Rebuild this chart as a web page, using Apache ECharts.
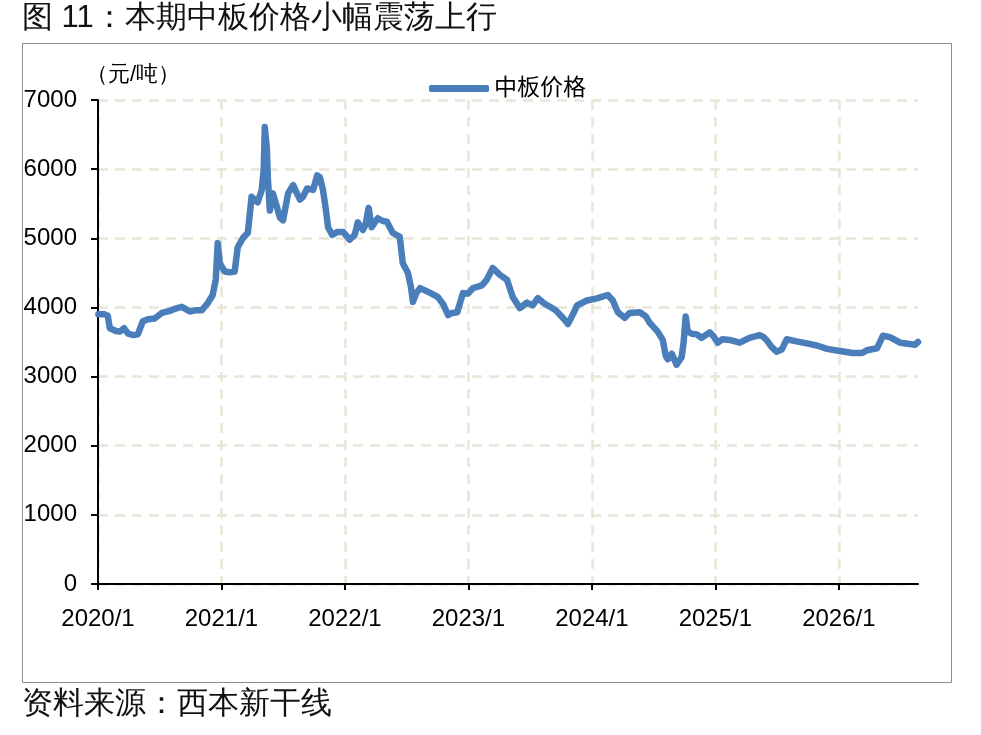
<!DOCTYPE html>
<html>
<head>
<meta charset="utf-8">
<script src="https://cdn.jsdelivr.net/npm/echarts@6/dist/echarts.min.js"></script>
<style>
  html, body { margin: 0; padding: 0; background: #fff; }
  #chart { width: 981px; height: 735px; }
</style>
</head>
<body>
<div id="chart"></div>
<script>
// 中板价格（元/吨），读自原图
const dates = [
  '2020-01-02', '2020-01-21', '2020-01-30', '2020-02-05', '2020-02-23', '2020-03-06', '2020-03-18', '2020-03-30',
  '2020-04-16', '2020-04-28', '2020-05-13', '2020-05-28', '2020-06-17', '2020-07-08', '2020-08-01', '2020-08-16',
  '2020-09-05', '2020-09-29', '2020-10-17', '2020-11-04', '2020-11-21', '2020-12-06', '2020-12-15', '2020-12-21',
  '2020-12-27', '2021-01-10', '2021-01-25', '2021-02-09', '2021-02-18', '2021-03-05', '2021-03-20', '2021-03-31',
  '2021-04-18', '2021-04-30', '2021-05-06', '2021-05-09', '2021-05-15', '2021-05-18', '2021-05-24', '2021-06-02',
  '2021-06-14', '2021-06-23', '2021-07-02', '2021-07-17', '2021-08-01', '2021-08-12', '2021-08-21', '2021-08-30',
  '2021-09-11', '2021-09-29', '2021-10-11', '2021-10-19', '2021-10-28', '2021-11-06', '2021-11-12', '2021-11-24',
  '2021-12-09', '2021-12-27', '2022-01-15', '2022-01-30', '2022-02-08', '2022-02-23', '2022-03-03', '2022-03-12',
  '2022-03-21', '2022-04-08', '2022-04-23', '2022-05-05', '2022-05-22', '2022-06-12', '2022-06-21', '2022-07-06',
  '2022-07-15', '2022-07-21', '2022-07-30', '2022-08-11', '2022-09-10', '2022-10-03', '2022-10-18', '2022-11-02',
  '2022-11-14', '2022-11-29', '2022-12-16', '2022-12-31', '2023-01-14', '2023-01-29', '2023-02-10', '2023-02-24',
  '2023-03-14', '2023-04-04', '2023-04-25', '2023-05-12', '2023-06-02', '2023-06-23', '2023-07-10', '2023-07-25',
  '2023-08-12', '2023-08-30', '2023-09-16', '2023-10-07', '2023-10-22', '2023-11-06', '2023-11-18', '2023-12-17',
  '2024-01-16', '2024-02-17', '2024-03-03', '2024-03-18', '2024-04-07', '2024-04-22', '2024-05-22', '2024-06-09',
  '2024-06-20', '2024-07-14', '2024-07-29', '2024-08-07', '2024-08-13', '2024-08-25', '2024-09-08', '2024-09-23',
  '2024-09-29', '2024-10-05', '2024-10-11', '2024-10-23', '2024-11-07', '2024-11-21', '2024-12-03', '2024-12-15',
  '2024-12-27', '2025-01-08', '2025-01-22', '2025-02-12', '2025-03-14', '2025-04-12', '2025-05-12', '2025-05-24',
  '2025-06-01', '2025-06-16', '2025-07-01', '2025-07-16', '2025-07-31', '2025-08-29', '2025-09-28', '2025-10-28',
  '2025-11-27', '2026-01-04', '2026-02-11', '2026-03-10', '2026-03-25', '2026-04-24', '2026-05-11', '2026-06-01',
  '2026-07-01', '2026-07-30', '2026-08-14', '2026-08-23'
];
const prices = [
  3900, 3900, 3880, 3700, 3660, 3650, 3700, 3620,
  3600, 3610, 3800, 3830, 3840, 3920, 3950, 3980,
  4010, 3940, 3960, 3960, 4060, 4180, 4400, 4930,
  4640, 4520, 4510, 4520, 4870, 5000, 5080, 5600,
  5520, 5700, 6000, 6610, 6300, 5880, 5400, 5650,
  5450, 5300, 5260, 5650, 5770, 5650, 5560, 5600,
  5720, 5700, 5910, 5880, 5700, 5400, 5160, 5050,
  5090, 5090, 4980, 5050, 5230, 5120, 5200, 5440,
  5160, 5290, 5250, 5240, 5080, 5020, 4640, 4500,
  4300, 4080, 4200, 4280, 4210, 4150, 4050, 3890,
  3920, 3930, 4210, 4200, 4280, 4300, 4320, 4400,
  4570, 4470, 4400, 4150, 3990, 4070, 4030, 4135,
  4060, 4010, 3960, 3850, 3760, 3900, 4030, 4100,
  4130, 4180, 4100, 3930, 3850, 3920, 3930, 3870,
  3780, 3650, 3530, 3300, 3250, 3330, 3170, 3280,
  3500, 3870, 3650, 3620, 3610, 3560, 3600, 3640,
  3580, 3490, 3540, 3530, 3490, 3560, 3600, 3570,
  3530, 3430, 3360, 3390, 3540, 3510, 3480, 3450,
  3400, 3370, 3340, 3340, 3380, 3410, 3590, 3570,
  3490, 3470, 3460, 3500
];
const yearTicks = [2020, 2021, 2022, 2023, 2024, 2025, 2026];
const seriesName = '中板价格';

// 日期 -> 小数年份，方便按年份刻度对齐
function toYear(s) {
    const [y, m, d] = s.split('-').map(Number);
    const t0 = Date.UTC(y, 0, 1), t1 = Date.UTC(y + 1, 0, 1);
    return y + (Date.UTC(y, m - 1, d) - t0) / (t1 - t0);
}

const numFont = '"Liberation Sans Narrow", "Arial Narrow", "Liberation Sans", Arial, sans-serif';
const cjkFont = '"Liberation Sans", "Noto Sans CJK SC", sans-serif';
const gridColor = '#e9e5d8';

const chart = echarts.init(document.getElementById('chart'), null, { renderer: 'canvas' });

const option = {
    animation: false,
    backgroundColor: '#fff',
    grid: { left: 98, right: 63, top: 100, bottom: 151, containLabel: false },
    legend: {
        data: [seriesName],
        left: 424,
        top: 72,
        icon: 'roundRect',
        itemWidth: 60,
        itemHeight: 7,
        textStyle: { fontSize: 23, color: '#000', fontFamily: cjkFont }
    },
    xAxis: {
        type: 'value',
        min: 2020,
        max: toYear(dates[dates.length - 1]),
        interval: 1,
        axisLine: { lineStyle: { color: '#000', width: 2 } },
        axisTick: { show: true, length: 6, lineStyle: { color: '#000', width: 2 }, customValues: yearTicks },
        axisLabel: {
            customValues: yearTicks,
            margin: 23,
            fontSize: 24,
            color: '#000',
            fontFamily: numFont,
            formatter: v => Math.round(v) + '/1'
        },
        splitLine: { show: true, lineStyle: { color: gridColor, width: 2.5, type: [10, 7] } }
    },
    yAxis: {
        type: 'value',
        min: 0,
        max: 7000,
        interval: 1000,
        axisLine: { show: true, lineStyle: { color: '#000', width: 2 } },
        axisTick: { show: true, length: 7, lineStyle: { color: '#000', width: 2 } },
        axisLabel: {
            margin: 21,
            fontSize: 24,
            color: '#000',
            fontFamily: numFont,
            formatter: v => String(v)
        },
        splitLine: { show: true, lineStyle: { color: gridColor, width: 2.5, type: [10, 7] } }
    },
    series: [
        {
            name: seriesName,
            type: 'line',
            showSymbol: false,
            symbol: 'none',
            data: dates.map((d, i) => [toYear(d), prices[i]]),
            lineStyle: { color: '#4a7ebb', width: 6.5, cap: 'round', join: 'round' },
            itemStyle: { color: '#4a7ebb' }
        }
    ],
    graphic: [
        {
            type: 'rect',
            shape: { x: 22.5, y: 43.5, width: 929, height: 639 },
            style: { fill: 'none', stroke: '#8c8c8c', lineWidth: 1 },
            silent: true
        },
        {
            type: 'text',
            left: 22,
            top: 3,
            style: { text: '图 11：本期中板价格小幅震荡上行', fontSize: 31, fill: '#111', font: '31px ' + cjkFont }
        },
        {
            type: 'text',
            left: 86,
            top: 64,
            style: { text: '（元/吨）', fontSize: 22, fill: '#000', font: '22px ' + cjkFont }
        },
        {
            type: 'text',
            left: 22,
            top: 689,
            style: { text: '资料来源：西本新干线', fontSize: 31, fill: '#111', font: '31px ' + cjkFont }
        }
    ]
};

chart.setOption(option);
window.addEventListener('resize', () => chart.resize());
</script>
</body>
</html>
